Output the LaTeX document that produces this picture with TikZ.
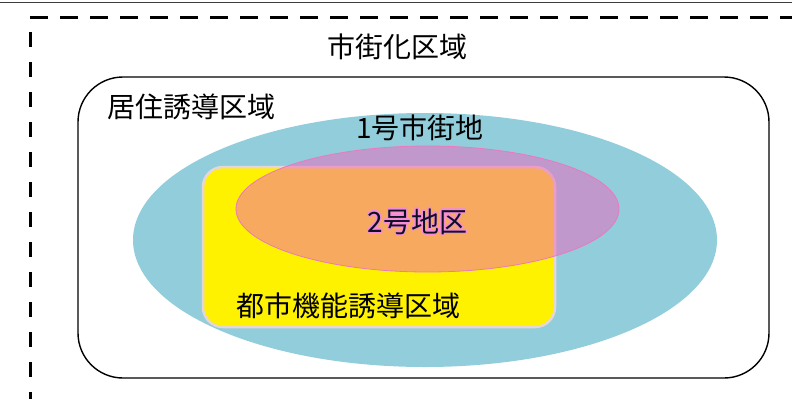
\documentclass[tikz,border=0pt]{standalone}
\usepackage{fontspec}
\usepackage[copies]{contour}
\newfontfamily\jp{Noto Sans CJK JP}
\definecolor{areablue}{RGB}{146,205,220}
\definecolor{zonepink}{RGB}{240,100,190}
\definecolor{zoneedge}{RGB}{236,120,190}
\definecolor{rectedge}{RGB}{230,214,214}
\definecolor{topline}{RGB}{60,60,60}
\definecolor{halopink}{RGB}{245,140,215}
\definecolor{darktext}{RGB}{15,15,35}
\contourlength{1.1pt}
\contournumber{16}
\tikzset{
  lbl/.style={font=\jp\fontsize{28}{30}\selectfont, inner sep=0pt, text=black},
}
\begin{document}
\begin{tikzpicture}[x=1pt,y=-1pt]
\useasboundingbox (0,0) rectangle (792,399);
% thin top rule
\draw[topline, line width=1pt] (0,2) -- (792,2);
% dashed urbanisation-area frame
\draw[line width=3pt, dash pattern=on 18pt off 12pt] (30,17) -- (792,17);
\draw[line width=3pt, dash pattern=on 15pt off 15pt] (30,32) -- (30,399);
\node[lbl] (shigaika) at (397.5,47) {市街化区域};
% residential inducement area
\draw[line width=1.4pt, rounded corners=45pt] (78,77) rectangle (769,378);
\node[lbl, anchor=west] (kyoju) at (107,107) {居住誘導区域};
% 1st class district
\fill[areablue] (425,240) ellipse [x radius=292, y radius=127];
\node[lbl] (ichigo) at (420,128) {1号市街地};
% urban function inducement area
\draw[fill=yellow, draw=rectedge, line width=2.5pt, rounded corners=20pt] (203,167) rectangle (555,327);
\node[lbl, anchor=west] (toshi) at (236,306) {都市機能誘導区域};
% 2nd district (semi transparent)
\fill[zonepink, fill opacity=0.5] (427.5,209) ellipse [x radius=191.5, y radius=63];
\draw[zoneedge, line width=0.8pt] (427.5,209) ellipse [x radius=191.5, y radius=63];
\node[lbl] (nigo) at (417.5,222) {\contour{halopink}{\textcolor{darktext}{2号地区}}};
\end{tikzpicture}
\end{document}
